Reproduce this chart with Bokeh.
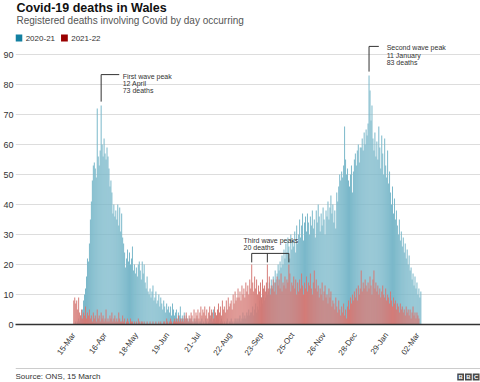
from bokeh.plotting import figure
from bokeh.models import Range1d, FixedTicker, ColumnDataSource
from bokeh.layouts import column
from bokeh.embed import file_html
from bokeh.resources import INLINE
from bokeh.core.properties import value

FONT = "Liberation Sans"
BLUE = "#78b7c9"
RED = "#d57a76"
LEG_BLUE = "#1380a1"
LEG_RED = "#990000"
TXT = "#333333"
W = 480

series_names = ["2020-21", "2021-22"]

# Daily deaths, day 0 = 15 March
deaths_2020_21 = [
    0, 0, 1, 0, 1, 2, 1,
    3, 2, 5, 8, 10, 12, 16,
    22, 21, 27, 35, 41, 48, 53,
    54, 52, 49, 72, 56, 53, 58,
    73, 60, 56, 62, 57, 55, 59,
    56, 52, 46, 48, 44, 37, 40,
    36, 38, 35, 40, 33, 39, 31,
    37, 29, 27, 24, 19, 22, 25,
    21, 24, 20, 22, 26, 18, 20,
    17, 19, 16, 20, 21, 18, 15,
    21, 17, 20, 14, 12, 16, 11,
    10, 12, 9, 11, 13, 8, 9,
    11, 7, 8, 10, 6, 9, 7,
    5, 8, 6, 4, 7, 5, 6,
    4, 6, 3, 7, 5, 3, 4,
    5, 2, 4, 3, 6, 2, 3,
    2, 4, 1, 3, 2, 1, 2,
    1, 2, 1, 0, 2, 1, 1,
    2, 1, 0, 1, 1, 2, 0,
    1, 0, 2, 1, 0, 1, 3,
    2, 4, 1, 5, 2, 1, 3,
    1, 2, 0, 1, 2, 1, 0,
    1, 0, 1, 2, 0, 1, 1,
    2, 1, 0, 1, 2, 1, 2,
    1, 2, 3, 1, 2, 4, 2,
    3, 2, 4, 3, 5, 3, 4,
    4, 6, 3, 5, 7, 4, 6,
    5, 8, 6, 9, 7, 10, 8,
    9, 12, 10, 11, 14, 12, 15,
    13, 16, 14, 18, 15, 17, 20,
    18, 21, 19, 23, 20, 25, 22,
    27, 24, 29, 26, 22, 30, 25,
    28, 26, 31, 24, 33, 27, 30,
    35, 29, 33, 37, 28, 34, 36,
    31, 37, 34, 30, 36, 33, 38,
    32, 35, 29, 38, 34, 40, 36,
    31, 37, 33, 39, 35, 30, 38,
    36, 41, 35, 39, 43, 37, 40,
    34, 38, 32, 44, 41, 46, 50,
    48, 51, 49, 53, 66, 55, 50,
    52, 48, 46, 50, 53, 44, 51,
    55, 57, 53, 58, 60, 54, 59,
    59, 62, 58, 64, 60, 65, 63,
    67, 83, 78, 68, 73, 62, 58,
    64, 56, 61, 55, 66, 59, 52,
    63, 57, 50, 62, 53, 49, 58,
    47, 51, 44, 40, 46, 37, 42,
    35, 38, 33, 30, 35, 28, 31,
    26, 29, 24, 27, 22, 25, 20,
    23, 18, 19, 15, 17, 13, 16,
    12, 14, 10, 12, 9, 11,
]

deaths_2021_22 = [
    8, 9, 7, 8, 5, 9, 4,
    3, 5, 2, 4, 3, 6, 2,
    4, 3, 5, 2, 3, 1, 4,
    2, 3, 1, 5, 2, 3, 1,
    4, 2, 3, 1, 2, 5, 1,
    2, 1, 3, 2, 4, 1, 2,
    3, 1, 2, 1, 4, 2, 1,
    1, 3, 1, 2, 0, 1, 2,
    1, 0, 2, 1, 1, 0, 1,
    0, 1, 0, 2, 1, 0, 1,
    1, 0, 1, 0, 0, 1, 0,
    0, 1, 0, 0, 1, 0, 0,
    1, 0, 0, 1, 0, 1, 0,
    0, 1, 1, 0, 2, 1, 0,
    1, 2, 1, 0, 1, 2, 1,
    2, 1, 3, 1, 2, 1, 2,
    1, 3, 2, 4, 2, 1, 3,
    2, 4, 3, 1, 5, 2, 4,
    3, 5, 2, 4, 6, 3, 5,
    4, 6, 3, 5, 2, 4, 6,
    3, 5, 4, 2, 6, 4, 3,
    5, 7, 4, 6, 3, 8, 5,
    6, 4, 8, 5, 9, 6, 7,
    8, 5, 10, 7, 11, 8, 9,
    12, 9, 11, 8, 13, 10, 12,
    9, 14, 11, 13, 10, 15, 12,
    20, 14, 11, 16, 12, 15, 10,
    13, 11, 14, 9, 15, 12, 13,
    11, 14, 20, 12, 16, 10, 13,
    12, 15, 11, 14, 10, 16, 13,
    15, 12, 17, 11, 14, 13, 16,
    12, 15, 14, 20, 17, 11, 14,
    13, 16, 12, 15, 10, 14, 11,
    15, 12, 17, 13, 10, 14, 12,
    16, 11, 14, 13, 17, 12, 10,
    14, 18, 12, 15, 11, 13, 9,
    12, 10, 14, 8, 11, 13, 9,
    10, 7, 12, 9, 11, 6, 8,
    7, 5, 9, 6, 4, 8, 5,
    3, 6, 4, 7, 3, 5, 2,
    6, 8, 5, 9, 7, 10, 8,
    11, 9, 12, 8, 13, 10, 12,
    18, 11, 14, 12, 15, 13, 11,
    14, 12, 16, 13, 10, 15, 18,
    12, 14, 11, 13, 10, 12, 9,
    11, 13, 10, 9, 12, 8, 10,
    9, 7, 11, 8, 6, 9, 7,
    8, 5, 7, 6, 4, 7, 5,
    6, 4, 5, 3, 6, 4, 5,
    3, 5, 2, 4, 6, 3, 4,
    2, 4, 3, 2,
]

tick_days = [0, 32, 64, 96, 128, 160, 192, 224, 256, 288, 320, 352]
tick_labels = ["15-Mar", "16-Apr", "18-May", "19-Jun", "21-Jul", "22-Aug",
               "23-Sep", "25-Oct", "26-Nov", "28-Dec", "29-Jan", "02-Mar"]
y_ticks = [0, 10, 20, 30, 40, 50, 60, 70, 80, 90]

first_peak = (28, 73, ["First wave peak", "12 April", "73 deaths"])
second_peak = (302, 83, ["Second wave peak", "11 January", "83 deaths"])
third_peaks = ([182, 198, 220], 20, ["Third wave peaks", "20 deaths"])

F = value(FONT)

# ---------------- header ----------------
hdr = figure(width=W, height=42, x_range=Range1d(0, W), y_range=Range1d(0, 42),
             output_backend="svg", toolbar_location=None, min_border=0,
             x_axis_location=None, y_axis_location=None)
hdr.grid.visible = False
hdr.outline_line_color = None
hdr.text(x=[1], y=[35], text=["Covid-19 deaths in Wales"], text_font=F,
         text_font_size="12.5px", text_font_style="bold", text_color="#111111",
         text_baseline="middle")
hdr.text(x=[1], y=[22], text=["Registered deaths involving Covid by day occurring"],
         text_font=F, text_font_size="10px", text_color="#555555", text_baseline="middle")
hdr.rect(x=[3.5, 50.5], y=[4.5, 4.5], width=7, height=7,
         fill_color=[LEG_BLUE, LEG_RED], line_color=None)
hdr.text(x=[10.5, 57.5], y=[4.5, 4.5], text=series_names, text_font=F,
         text_font_size="8px", text_color=TXT, text_baseline="middle")

# ---------------- main chart ----------------
p = figure(width=W, height=324, x_range=Range1d(-59.6, 416.0), y_range=Range1d(0, 94),
           output_backend="svg", toolbar_location=None,
           min_border_left=13, min_border_right=0, min_border_top=0, min_border_bottom=42)
p.outline_line_color = None
p.background_fill_color = "white"
p.xgrid.visible = False
p.ygrid.ticker = FixedTicker(ticks=y_ticks)
p.ygrid.grid_line_color = "#dddddd"

p.yaxis.ticker = FixedTicker(ticks=y_ticks)
p.yaxis.axis_line_color = None
p.yaxis.major_tick_line_color = None
p.yaxis.minor_tick_line_color = None
p.yaxis.major_tick_out = 0
p.yaxis.major_tick_in = 0
p.yaxis.minor_tick_out = 0
p.yaxis.major_label_text_font = FONT
p.yaxis.major_label_text_font_size = "9px"
p.yaxis.major_label_text_color = TXT
p.yaxis.major_label_standoff = 2

p.xaxis.ticker = FixedTicker(ticks=tick_days)
p.xaxis.major_label_overrides = {d: l for d, l in zip(tick_days, tick_labels)}
p.xaxis.major_label_orientation = 0.95
p.xaxis.axis_line_color = "#333333"
p.xaxis.axis_line_width = 1.5
p.xaxis.major_tick_line_color = None
p.xaxis.minor_tick_line_color = None
p.xaxis.major_tick_out = 0
p.xaxis.major_tick_in = 0
p.xaxis.minor_tick_out = 0
p.xaxis.major_label_text_font = FONT
p.xaxis.major_label_text_font_size = "8px"
p.xaxis.major_label_text_color = TXT
p.xaxis.major_label_standoff = 9

src_a = ColumnDataSource(dict(day=list(range(len(deaths_2020_21))), deaths=deaths_2020_21))
src_b = ColumnDataSource(dict(day=list(range(len(deaths_2021_22))), deaths=deaths_2021_22))
p.vbar(x="day", top="deaths", width=1.0, source=src_a, fill_color=BLUE, line_color=None)
p.vbar(x="day", top="deaths", width=1.0, source=src_b, fill_color=RED, line_color=None)

ANN = dict(text_font=F, text_font_size="7px", text_color=TXT, text_baseline="middle")


def callout(day, val, lines, top, arm, gap):
    p.line(x=[day, day, day + arm], y=[val + 1.3, top, top], line_color=TXT, line_width=1)
    p.text(x=[day + arm + gap] * len(lines), y=[top - 0.5 - 2.4 * i for i in range(len(lines))],
           text=lines, **ANN)


callout(first_peak[0], first_peak[1], first_peak[2], top=first_peak[1] + 10.3, arm=18.5, gap=3.5)
callout(second_peak[0], second_peak[1], second_peak[2], top=second_peak[1] + 9.7, arm=10, gap=8)

days3, v3, lines3 = third_peaks
bar_y = v3 + 3.7
p.line(x=[days3[0], days3[-1]], y=[bar_y, bar_y], line_color=TXT, line_width=1)
p.segment(x0=days3, y0=[bar_y] * len(days3), x1=days3, y1=[v3 + 0.7] * len(days3),
          line_color=TXT, line_width=1)
p.text(x=[days3[0] - 8.4] * len(lines3), y=[bar_y + 4.3 - 2.3 * i for i in range(len(lines3))],
       text=lines3, **ANN)

# ---------------- footer ----------------
ftr = figure(width=W, height=16, x_range=Range1d(0, W), y_range=Range1d(0, 16),
             output_backend="svg", toolbar_location=None, min_border=0,
             x_axis_location=None, y_axis_location=None)
ftr.grid.visible = False
ftr.outline_line_color = None
ftr.line(x=[0, W], y=[14, 14], line_color="#cccccc", line_width=1)
ftr.text(x=[0], y=[6], text=["Source: ONS, 15 March"], text_font=F, text_font_size="8px",
         text_color=TXT, text_baseline="middle")
ftr.rect(x=[W - 20.5, W - 12.5, W - 4.5], y=[5.5, 5.5, 5.5], width=7, height=7,
         fill_color="#4a4a4a", line_color=None)
ftr.text(x=[W - 20.5, W - 12.5, W - 4.5], y=[5.5, 5.5, 5.5], text=["B", "B", "C"], text_font=F,
         text_font_size="6px", text_font_style="bold", text_color="white",
         text_align="center", text_baseline="middle")

layout = column(hdr, p, ftr, spacing=0)
open("out.html", "w").write(file_html(layout, INLINE))
